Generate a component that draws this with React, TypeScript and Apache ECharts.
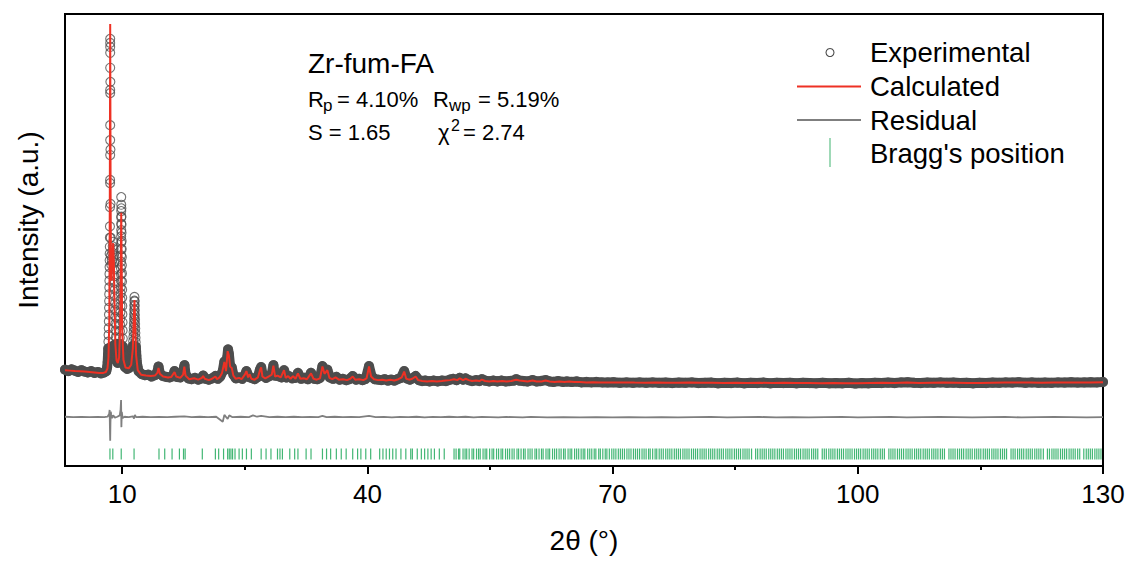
import React, { useEffect, useRef } from 'react';
import * as echarts from 'echarts';

// ---------- data (intensity in arbitrary units, 2θ in degrees) ----------
const xTicks = [10, 40, 70, 100, 130];
const xMinorTicks = [25, 55, 85, 115];

const calculated: [number, number][] = [
  [3.0,21.2],[3.6,21.1],[4.2,21.0],[4.8,20.95],[5.4,20.9],[6.0,20.8],[6.6,20.7],[7.2,20.6],[7.7,20.6],[8.0,20.8],
  [8.2,21.6],[8.32,24.0],[8.42,32.0],[8.48,58.0],[8.53,97.8],[8.58,60.0],[8.63,42.0],[8.7,41.0],[8.8,46.5],[8.9,49.3],
  [8.98,45.0],[9.06,36.0],[9.16,27.0],[9.3,23.4],[9.46,22.8],[9.62,24.0],[9.75,31.0],[9.83,46.0],[9.88,56.0],[9.93,45.0],
  [10.0,30.0],[10.15,23.5],[10.4,21.8],[10.8,21.6],[11.1,22.4],[11.3,26.0],[11.42,33.0],[11.5,36.7],[11.58,32.0],[11.7,24.5],
  [11.9,21.2],[12.3,20.2],[12.9,20.0],[13.5,19.9],[14.0,20.0],[14.3,20.6],[14.44,21.7],[14.6,20.4],[15.0,19.8],[15.6,19.6],
  [16.0,19.7],[16.4,20.8],[16.6,19.8],[17.1,19.5],[17.45,20.2],[17.6,22.0],[17.75,20.0],[18.2,19.2],[18.8,19.4],[19.3,19.1],
  [19.75,19.5],[19.9,19.9],[20.1,19.3],[20.6,19.0],[21.0,19.3],[21.4,19.8],[21.6,19.2],[21.9,19.6],[22.2,20.5],[22.5,23.0],
  [22.7,21.0],[22.9,25.4],[23.05,24.5],[23.2,22.0],[23.4,21.7],[23.6,20.0],[23.9,19.3],[24.3,19.5],[24.6,19.2],[25.0,20.2],
  [25.2,21.0],[25.4,19.6],[25.6,20.3],[25.8,19.3],[26.2,19.1],[26.6,19.6],[26.85,21.2],[27.0,21.8],[27.15,19.8],[27.5,19.4],
  [27.9,19.8],[28.3,20.2],[28.5,22.2],[28.7,19.8],[29.0,20.0],[29.4,19.6],[29.8,21.2],[30.0,19.5],[30.3,19.9],[30.6,19.3],
  [30.9,19.9],[31.2,19.3],[31.5,20.5],[31.8,19.3],[32.2,19.4],[32.6,19.2],[33.1,20.5],[33.4,19.3],[33.8,19.1],[34.2,19.4],
  [34.5,22.0],[34.75,20.4],[35.1,21.2],[35.35,19.5],[35.7,19.2],[36.1,19.6],[36.5,19.1],[37.0,19.2],[37.5,19.0],[37.9,19.3],
  [38.2,19.8],[38.5,19.1],[39.0,19.2],[39.5,19.0],[39.9,19.4],[40.2,22.0],[40.45,19.8],[40.8,19.2],[41.3,19.0],[41.8,19.1],
  [42.3,18.9],[42.8,19.1],[43.3,18.9],[43.8,19.2],[44.2,19.6],[44.5,20.9],[44.75,19.3],[45.1,19.1],[45.5,19.3],[45.9,19.8],
  [46.2,19.0],[46.7,18.8],[47.3,18.7],[47.9,18.8],[48.5,18.7],[49.1,18.8],[49.6,18.9],[50.1,19.0],[50.6,19.2],[51.0,19.0],
  [51.3,19.4],[51.7,19.0],[52.0,19.3],[52.4,19.0],[52.8,18.8],[53.3,18.9],[53.7,18.8],[54.0,19.1],[54.4,18.8],[54.9,18.7],
  [55.4,18.8],[55.9,18.7],[56.5,18.8],[57.0,18.7],[57.6,18.8],[58.2,19.1],[58.6,18.9],[59.1,18.8],[59.6,18.7],[60.2,18.9],
  [60.7,18.7],[61.3,18.7],[61.8,18.9],[62.3,18.7],[62.9,18.6],[63.5,18.7],[64.1,18.6],[64.7,18.7],[65.3,18.6],[66.0,18.6],
  [66.8,18.5],[67.6,18.55],[68.5,18.5],[69.4,18.5],[70.3,18.45],[71.5,18.5],[72.7,18.45],[74.0,18.4],[75.3,18.45],[76.6,18.4],
  [78.0,18.4],[79.4,18.45],[80.8,18.4],[82.2,18.4],[83.6,18.35],[85.0,18.4],[86.5,18.35],[88.0,18.4],[89.5,18.35],[91.0,18.4],
  [92.5,18.35],[94.0,18.35],[95.5,18.3],[97.0,18.35],[98.5,18.3],[100.0,18.3],[101.5,18.35],[103.0,18.4],[104.5,18.35],[106.0,18.5],
  [107.5,18.35],[109.0,18.4],[110.5,18.45],[112.0,18.4],[113.5,18.35],[115.0,18.35],[116.5,18.4],[118.0,18.45],[119.5,18.5],[121.0,18.45],
  [122.5,18.4],[124.0,18.45],[125.5,18.5],[127.0,18.45],[128.5,18.5],[130.0,18.55]
];

const experimental: [number, number][] = [
  [3.0,21.3],[3.4,21.0],[3.8,21.4],[4.2,21.1],[4.6,20.8],[5.0,21.2],[5.4,20.9],[5.8,20.7],[6.2,21.0],[6.6,20.6],
  [7.0,20.8],[7.4,20.5],[7.8,20.7],[8.05,21.0],[8.15,21.8],
  [8.22,23.0],[8.26,24.5],[8.29,26.0],[8.31,27.5],[8.33,29.0],[8.35,30.5],[8.36,32.0],[8.38,33.5],[8.39,35.0],[8.4,36.5],
  [8.41,38.0],[8.42,39.5],[8.43,41.0],[8.44,42.5],[8.45,44.0],[8.46,45.5],[8.47,47.0],[8.48,48.5],[8.49,50.5],[8.5,53.0],
  [8.51,57.3],[8.52,62.6],[8.52,63.3],[8.53,68.8],[8.53,72.1],[8.53,75.4],[8.53,82.5],[8.53,83.2],[8.53,88.1],[8.53,91.4],
  [8.53,92.7],[8.53,93.6],[8.53,94.5],[8.55,85.0],[8.56,70.0],[8.57,58.0],[8.59,50.5],[8.62,46.5],[8.66,44.5],[8.72,45.5],
  [8.78,47.2],[8.84,48.6],[8.9,49.6],[8.95,48.0],[8.99,46.5],[9.02,45.0],[9.04,43.5],[9.06,42.0],[9.08,40.5],[9.1,39.0],
  [9.11,37.5],[9.13,36.0],[9.14,34.5],[9.16,33.0],[9.17,31.5],[9.19,30.0],[9.21,28.5],[9.23,27.0],[9.26,25.5],[9.3,24.2],
  [9.36,23.2],[9.45,22.8],[9.55,23.2],
  [9.62,24.2],[9.66,25.6],[9.69,27.0],[9.71,28.4],[9.73,29.8],[9.75,31.2],[9.76,32.6],[9.78,34.0],[9.79,35.4],[9.8,36.8],
  [9.81,38.2],[9.82,39.6],[9.83,41.0],[9.84,42.4],[9.84,43.8],[9.85,45.2],[9.86,46.6],[9.86,48.0],[9.87,49.4],[9.87,50.8],
  [9.88,52.2],[9.88,53.6],[9.88,55.0],[9.88,56.4],[9.88,57.8],[9.88,59.5],[9.9,57.0],[9.9,55.2],[9.91,53.4],[9.92,51.6],
  [9.93,49.8],[9.94,48.0],[9.95,46.2],[9.96,44.4],[9.97,42.6],[9.98,40.8],[9.99,39.0],[10.0,37.2],[10.01,35.4],[10.02,33.6],
  [10.04,31.8],[10.05,30.0],[10.07,28.2],[10.09,26.4],[10.12,24.8],[10.16,23.4],[10.22,22.4],[10.35,21.9],[10.6,21.5],[10.85,21.7],
  [11.05,22.6],[11.15,23.6],[11.22,24.6],[11.27,25.6],[11.31,26.6],[11.34,27.6],[11.37,28.6],[11.39,29.6],[11.41,30.6],[11.43,31.6],
  [11.45,32.6],[11.46,33.6],[11.47,34.6],[11.48,35.6],[11.49,36.6],[11.5,37.4],[11.52,36.4],[11.53,35.4],[11.54,34.4],[11.55,33.4],
  [11.57,32.4],[11.58,31.4],[11.6,30.4],[11.61,29.4],[11.63,28.4],[11.65,27.4],[11.67,26.4],[11.7,25.4],[11.73,24.4],[11.77,23.4],
  [11.83,22.4],[11.92,21.6],[12.0,21.0],[12.4,20.3],[12.8,20.1],[13.2,20.2],
  [13.6,19.8],[14.0,20.1],[14.3,20.8],[14.44,22.0],[14.6,20.5],[15.0,19.9],[15.4,19.7],[15.8,19.6],[16.2,19.9],[16.4,21.0],
  [16.7,19.7],[17.1,19.6],[17.4,20.4],[17.55,21.7],[17.62,22.3],[17.75,20.3],[18.1,19.4],[18.5,19.2],[18.9,19.5],[19.3,19.1],
  [19.7,19.4],[19.9,20.0],[20.2,19.3],[20.6,19.1],[21.0,19.4],[21.4,19.9],[21.7,19.3],[22.0,19.8],[22.3,21.0],[22.5,23.1],
  [22.7,21.4],[22.85,24.0],[22.95,25.8],[23.05,24.8],[23.2,22.2],[23.4,21.8],[23.6,20.2],[23.9,19.4],[24.3,19.6],[24.7,19.3],
  [25.0,20.1],[25.2,21.0],[25.5,19.7],[25.8,19.5],[26.2,19.2],[26.6,19.7],[26.85,21.3],[27.0,21.9],[27.2,20.0],[27.6,19.5],
  [28.0,19.9],[28.3,20.4],[28.5,22.3],[28.7,20.0],[29.1,19.9],[29.5,19.6],[29.8,21.2],[30.1,19.6],[30.4,19.9],[30.8,19.4],
  [31.2,19.5],[31.5,20.6],[31.9,19.3],[32.3,19.5],[32.7,19.2],[33.1,20.6],[33.5,19.3],[33.9,19.2],[34.2,19.5],[34.5,22.1],
  [34.75,20.5],[35.1,21.3],[35.4,19.6],[35.8,19.3],[36.2,19.7],[36.6,19.1],[37.0,19.3],[37.4,19.0],[37.8,19.2],[38.2,19.9],
  [38.6,19.1],[39.0,19.3],[39.4,19.0],[39.8,19.3],[40.2,22.1],[40.5,19.9],[40.9,19.2],[41.3,19.1],[41.7,19.0],[42.1,19.2],
  [42.5,18.9],[42.9,19.1],[43.3,18.9],[43.7,19.2],[44.1,19.5],[44.5,21.0],[44.8,19.4],[45.2,19.1],[45.5,19.4],[45.9,19.9],
  [46.3,19.0],[46.7,18.8],[47.1,18.9],[47.6,18.7],[48.1,18.9],[48.6,18.7],[49.1,18.9],[49.6,18.8],[50.1,19.1],[50.5,19.3],
  [50.9,19.0],[51.3,19.5],[51.7,19.1],[52.0,19.4],[52.4,19.0],[52.8,18.8],[53.3,19.0],[53.7,18.8],[54.0,19.2],[54.4,18.9],
  [54.9,18.7],[55.4,18.9],[55.9,18.7],[56.4,18.9],[56.9,18.7],[57.4,18.8],[57.9,18.9],[58.2,19.2],[58.6,18.9],[59.1,18.8],
  [59.6,18.7],[60.2,19.0],[60.7,18.7],[61.2,18.8],[61.8,19.0],[62.3,18.7],[62.8,18.6],[63.3,18.8],[63.9,18.6],[64.4,18.7],
  [65.0,18.6],[65.6,18.7],[66.2,18.5],[66.8,18.6],[67.4,18.5],[68.0,18.6],[68.7,18.5],[69.4,18.5],[70.1,18.55],[70.9,18.4],
  [71.7,18.5],[72.5,18.4],[73.3,18.5],[74.1,18.4],[74.9,18.5],[75.7,18.4],[76.5,18.45],[77.3,18.35],[78.1,18.45],[78.9,18.4],
  [79.7,18.5],[80.5,18.35],[81.3,18.4],[82.1,18.45],[82.9,18.3],[83.7,18.4],[84.5,18.35],[85.3,18.45],[86.1,18.3],[86.9,18.4],
  [87.7,18.35],[88.5,18.45],[89.3,18.3],[90.1,18.4],[90.9,18.35],[91.7,18.4],[92.5,18.3],[93.3,18.4],[94.1,18.35],[94.9,18.3],
  [95.7,18.4],[96.5,18.3],[97.3,18.35],[98.1,18.3],[98.9,18.4],[99.7,18.25],[100.5,18.35],[101.3,18.3],[102.1,18.4],[102.9,18.35],
  [103.7,18.45],[104.5,18.35],[105.3,18.5],[106.1,18.55],[106.9,18.4],[107.7,18.35],[108.5,18.45],[109.3,18.4],[110.1,18.5],[110.9,18.4],
  [111.7,18.45],[112.5,18.35],[113.3,18.4],[114.1,18.3],[114.9,18.4],[115.7,18.35],[116.5,18.45],[117.3,18.4],[118.1,18.5],[118.9,18.45],
  [119.7,18.55],[120.5,18.4],[121.3,18.5],[122.1,18.4],[122.9,18.45],[123.7,18.4],[124.5,18.5],[125.3,18.45],[126.1,18.55],[126.9,18.45],
  [127.7,18.5],[128.5,18.55],[129.3,18.5],[130.0,18.6]
];

const residual: [number, number][] = [
  [3,10.9],[4,10.8],[5,10.85],[6,10.8],[7,10.85],[7.8,10.8],[8.2,10.9],[8.4,11.5],[8.46,12.4],[8.5,8.0],
  [8.53,5.6],[8.56,9.5],[8.6,12.0],[8.66,11.3],[8.75,10.6],[8.9,11.2],[9.1,10.7],[9.4,10.9],[9.7,11.2],[9.8,12.5],
  [9.86,14.6],[9.9,8.6],[9.95,12.0],[10.05,10.6],[10.3,10.9],[10.8,10.8],[11.3,11.0],[11.45,10.5],[11.55,11.3],[11.7,10.8],
  [12.5,10.9],[13.5,10.8],[14.5,10.85],[15.5,10.8],[16.5,10.9],[17.6,11.0],[18.5,10.8],[19.5,10.9],[20.5,10.8],[21.5,10.9],
  [22.3,9.8],[22.5,11.3],[22.9,10.4],[23.1,11.2],[23.5,10.8],[24.5,10.9],[25.5,10.8],[26.0,11.2],[26.5,10.9],[27.0,11.1],
  [28,10.8],[29,10.9],[30,10.8],[31,10.9],[32,10.8],[33,10.85],[34,10.8],[34.5,11.1],[35,10.8],[36,10.9],
  [37,10.8],[38,10.85],[39,10.8],[40.2,11.1],[41,10.8],[42,10.85],[43,10.75],[44,10.85],[45,10.8],[46,10.9],
  [47,10.75],[48,10.85],[49,10.8],[50,10.9],[51,10.8],[52,10.9],[53,10.75],[54,10.85],[55,10.8],[56,10.75],
  [57,10.85],[58,10.8],[59,10.75],[60,10.85],[62,10.75],[64,10.8],[66,10.75],[68,10.8],[70,10.75],[72,10.8],
  [74,10.75],[76,10.8],[78,10.75],[80,10.8],[82,10.85],[84,10.75],[86,10.8],[88,10.85],[90,10.75],[92,10.8],
  [94,10.75],[96,10.8],[98,10.85],[100,10.75],[102,10.8],[104,10.85],[106,10.75],[108,10.8],[110,10.85],[112,10.8],
  [114,10.75],[116,10.8],[118,10.85],[120,10.75],[122,10.8],[124,10.85],[126,10.8],[128,10.75],[130,10.8]
];

const braggPositions: number[] = [
  8.5, 8.85, 9.88, 11.45, 14.5, 15.2, 16.1, 17.0, 17.5, 17.7, 19.8, 21.4, 21.8, 22.4, 22.9, 23.1, 23.3, 23.5, 23.8, 24.3,
  24.7, 25.2, 25.8, 27.0, 27.6, 28.2, 29.0, 29.3, 29.6, 30.5, 31.1, 31.5, 32.5, 33.1, 34.5, 35.0, 35.5, 36.2, 36.8, 37.4,
  38.2, 38.8, 39.2, 39.8, 40.4, 41.5, 41.9, 42.3, 42.7, 43.1, 43.5, 44.1, 44.7, 45.3, 45.5, 46.1, 46.6, 47.0, 47.4, 47.8,
  48.2, 48.8, 49.4, 50.6, 50.85, 51.15, 51.3, 51.7, 51.95, 52.15, 52.45, 52.8, 53.0, 53.35, 53.6, 53.8, 54.15, 54.4, 54.6,
  54.95, 55.25, 55.45, 55.8, 56.05, 56.35, 56.55, 56.9, 57.15, 57.4, 57.7, 57.95, 58.3, 58.5, 58.8, 59.1, 59.3, 59.65, 59.9,
  60.15, 60.5, 60.7, 61.0, 61.3, 61.5, 61.85, 62.1, 62.3, 62.65, 62.9, 63.15, 63.45, 63.7, 64.0, 64.2, 64.55, 64.8, 65.0,
  65.35, 65.6, 65.85, 66.15, 66.4, 66.6, 66.95, 67.2, 67.45, 67.75, 67.95, 68.3, 68.5, 68.8, 69.1, 69.3, 69.6, 69.9, 70.15,
  70.4, 70.7, 70.95, 71.2, 71.45, 71.75, 72.0, 72.25, 72.55, 72.8, 73.05, 73.3, 73.6, 73.85, 74.1, 74.4, 74.6, 74.9, 75.2,
  75.4, 75.7, 75.95, 76.2, 76.5, 76.75, 77.0, 77.25, 77.55, 77.8, 78.05, 78.3, 78.6, 78.85, 79.1, 79.35, 79.65, 79.9, 80.15,
  80.4, 80.7, 80.95, 81.2, 81.45, 81.75, 82.0, 82.25, 82.5, 82.8, 83.05, 83.3, 83.55, 83.85, 84.1, 84.35, 84.6, 84.9, 85.15,
  85.4, 85.65, 85.95, 86.2, 86.45, 86.7, 87.0, 87.5, 87.75, 88.05, 88.3, 88.55, 88.8, 89.1, 89.35, 89.6, 89.85, 90.15, 90.4,
  90.65, 90.9, 91.2, 91.45, 91.7, 91.95, 92.25, 92.5, 92.75, 93.0, 93.3, 93.55, 93.8, 94.05, 94.35, 94.6, 94.85, 95.1, 95.65,
  95.9, 96.15, 96.45, 96.7, 96.95, 97.2, 97.5, 97.75, 98.0, 98.25, 98.55, 98.8, 99.05, 99.3, 99.6, 99.85, 100.1, 100.35, 100.65,
  100.9, 101.15, 101.4, 101.7, 101.95, 102.2, 102.45, 102.75, 103.0, 103.25, 103.8, 104.05, 104.3, 104.55, 104.85, 105.1, 105.35,
  105.6, 105.9, 106.15, 106.4, 106.65, 106.95, 107.2, 107.45, 107.7, 108.0, 108.25, 108.5, 108.75, 109.05, 109.3, 109.55, 109.8,
  110.1, 110.35, 110.6, 111.15, 111.4, 111.65, 111.9, 112.2, 112.45, 112.7, 112.95, 113.25, 113.5, 113.75, 114.0, 114.3, 114.55,
  114.8, 115.05, 115.35, 115.6, 115.85, 116.1, 116.4, 116.65, 116.9, 117.15, 117.45, 117.7, 117.95, 118.2, 118.75, 119.0, 119.25,
  119.55, 119.8, 120.05, 120.3, 120.6, 120.85, 121.1, 121.35, 121.65, 121.9, 122.15, 122.4, 122.7, 123.2, 123.45, 123.75, 124.0,
  124.25, 124.5, 124.8, 125.05, 125.3, 125.55, 125.85, 126.1, 126.35, 126.6, 126.9, 127.15, 127.65, 127.95, 128.2, 128.45, 128.7,
  129.0, 129.25, 129.5, 129.75
];
const braggLevel = 2.65;
const bandMax = 27; // experimental points above this are drawn only as open circles

// ---------- styling ----------
const FONT = '"Liberation Sans", Arial, Helvetica, sans-serif';
const EXP_COLOR = '#4d4d4d';
const CALC_COLOR = '#ee3124';
const RES_COLOR = '#7f7f7f';
const BRAGG_COLOR = '#21a95c';

function txt(text: string, x: number, y: number, size: number, extra: any = {}) {
  return {
    type: 'text',
    x,
    y,
    silent: true,
    ...extra,
    style: {
      text,
      fontSize: size,
      fontFamily: FONT,
      fill: '#000',
      align: extra.align || 'left',
      textAlign: extra.align || 'left',
      verticalAlign: 'middle',
      textVerticalAlign: 'middle',
    },
  };
}

export default function App() {
  const ref = useRef<HTMLDivElement>(null);
  useEffect(() => {
    if (!ref.current) return;
    const chart = echarts.init(ref.current, null, { renderer: 'svg' });
    const band = experimental.filter((p) => p[1] <= bandMax);
    const legendX = 870;
    const LS = 27.5;
    const graphic: any[] = [
      // annotation
      txt('Zr-fum-FA', 308, 63, 28),
      txt('R', 308, 99, 22),
      txt('p', 323, 105, 17),
      txt('= 4.10%', 337, 99, 22),
      txt('R', 433, 99, 22),
      txt('wp', 449, 105, 17),
      txt('= 5.19%', 478, 99, 22),
      txt('S = 1.65', 308, 132, 22),
      txt('χ', 438, 132, 22),
      txt('2', 451, 125, 16),
      txt('= 2.74', 463, 132, 22),
      // legend
      { type: 'circle', silent: true, shape: { cx: 830, cy: 52.5, r: 4 }, style: { fill: 'none', stroke: EXP_COLOR, lineWidth: 1.1 } },
      txt('Experimental', legendX, 52.5, LS),
      { type: 'line', silent: true, shape: { x1: 797, y1: 86.5, x2: 861, y2: 86.5 }, style: { stroke: CALC_COLOR, lineWidth: 2 } },
      txt('Calculated', legendX, 86.5, LS),
      { type: 'line', silent: true, shape: { x1: 797, y1: 120, x2: 861, y2: 120 }, style: { stroke: RES_COLOR, lineWidth: 2 } },
      txt('Residual', legendX, 120, LS),
      { type: 'line', silent: true, shape: { x1: 830, y1: 138, x2: 830, y2: 167 }, style: { stroke: '#7fcc9f', lineWidth: 1.5 } },
      txt("Bragg's position", legendX, 153, LS),
      // axis titles
      txt('Intensity (a.u.)', 28, 220, 28, { rotation: Math.PI / 2, align: 'center' }),
      txt('2θ (°)', 584, 540, 28, { align: 'center' }),
    ];

    chart.setOption({
      animation: false,
      backgroundColor: '#fff',
      grid: { left: 65, right: 29, top: 14, bottom: 97, show: true, borderColor: '#000', borderWidth: 2, backgroundColor: 'transparent' },
      xAxis: [
        {
          type: 'value', min: 3, max: 130,
          axisLine: { show: true, onZero: false, lineStyle: { color: '#000', width: 2 } },
          axisTick: { show: true, customValues: xTicks, length: 8, inside: false, lineStyle: { color: '#000', width: 2 } },
          axisLabel: { show: true, customValues: xTicks, margin: 15, fontSize: 26, fontFamily: FONT, color: '#000' },
          splitLine: { show: false },
        },
        {
          type: 'value', min: 3, max: 130, position: 'bottom',
          axisLine: { show: false, onZero: false },
          axisTick: { show: true, customValues: xMinorTicks, length: 4, inside: false, lineStyle: { color: '#000', width: 2 } },
          axisLabel: { show: false },
          splitLine: { show: false },
        },
      ],
      yAxis: {
        type: 'value', min: 0, max: 100,
        axisLine: { show: false }, axisTick: { show: false }, axisLabel: { show: false }, splitLine: { show: false },
      },
      series: [
        {
          name: 'band', type: 'line', data: band, symbol: 'none', silent: true, z: 1,
          lineStyle: { color: EXP_COLOR, width: 10, join: 'round', cap: 'round' },
        },
        {
          name: 'Experimental', type: 'scatter', data: experimental, symbol: 'circle', symbolSize: 9, silent: true, z: 2,
          itemStyle: { color: 'rgba(0,0,0,0)', borderColor: EXP_COLOR, borderWidth: 1.1 },
        },
        {
          name: 'Calculated', type: 'line', data: calculated, symbol: 'none', silent: true, z: 3,
          lineStyle: { color: CALC_COLOR, width: 2 },
        },
        {
          name: 'Residual', type: 'line', data: residual, symbol: 'none', silent: true, z: 3,
          lineStyle: { color: RES_COLOR, width: 1.8 },
        },
        {
          name: "Bragg's position", type: 'scatter', data: braggPositions.map((x) => [x, braggLevel]), symbol: 'rect',
          symbolSize: [1.2, 11], silent: true, z: 3, itemStyle: { color: BRAGG_COLOR, opacity: 0.85 },
        },
      ],
      graphic,
    });
    return () => chart.dispose();
  }, []);
  return <div ref={ref} style={{ position: 'fixed', left: 0, top: 0, width: 1132, height: 563 }} />;
}
